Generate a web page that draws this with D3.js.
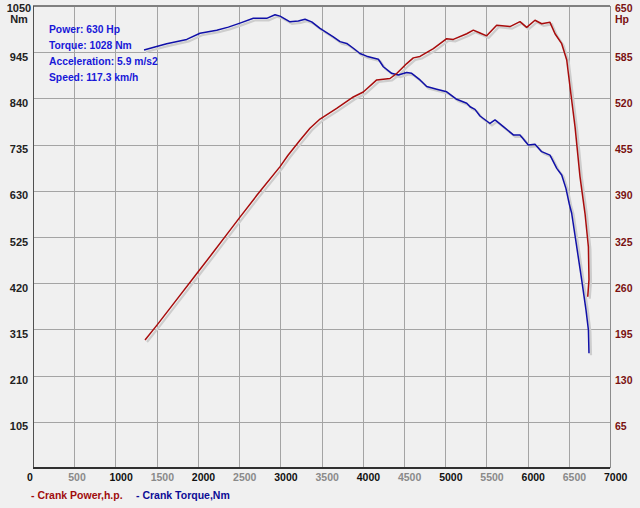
<!DOCTYPE html>
<html>
<head>
<meta charset="utf-8">
<script src="https://cdn.jsdelivr.net/npm/d3@7.9.0/dist/d3.min.js"></script>
<style>
  html, body { margin: 0; padding: 0; background: #f0f0f0; }
  svg { display: block; font-family: "Liberation Sans", Arial, sans-serif; font-weight: bold; }
</style>
</head>
<body>
<div id="chart"></div>
<script>
/* ---- data ---- */
const torqueRpm = [1347, 1500, 1622, 1865, 2026, 2229, 2370, 2511, 2673, 2835, 2936, 2997, 3118, 3219, 3300, 3381,
  3482, 3643, 3725, 3806, 3886, 3967, 4048, 4129, 4190, 4250, 4351, 4432, 4534, 4594, 4695, 4776, 4898, 5019,
  5140, 5262, 5302, 5362, 5423, 5544, 5605, 5706, 5827, 5908, 6009, 6090, 6171, 6272, 6354, 6414, 6466, 6506,
  6535, 6596, 6657, 6709, 6738, 6745];
const torqueNm = [950, 958, 964, 974, 988, 995, 1002, 1011, 1022, 1022, 1030, 1027, 1014, 1016, 1020, 1014,
  999, 980, 969, 965, 954, 942, 936, 932, 929, 912, 897, 893, 899, 897, 882, 867, 861, 855,
  838, 829, 821, 815, 800, 783, 791, 776, 757, 757, 734, 736, 719, 711, 681, 666, 635, 600,
  579, 503, 427, 359, 314, 261];

const powerRpm = [1359, 1504, 1750, 1990, 2170, 2354, 2511, 2718, 2997, 3094, 3239, 3360, 3482, 3684, 3886, 4007,
  4170, 4331, 4412, 4534, 4614, 4695, 4857, 5019, 5099, 5262, 5342, 5423, 5504, 5625, 5787, 5908, 5989,
  6090, 6171, 6272, 6333, 6414, 6475, 6515, 6576, 6636, 6697, 6738, 6745, 6730];
const powerHp = [180, 201, 238, 274, 301, 329, 353, 384, 424, 440, 461, 478, 491, 506, 522, 529,
  546, 548, 555, 569, 577, 579, 590, 604, 603, 611, 616, 612, 608, 623, 621, 628, 620,
  630, 625, 627, 611, 597, 574, 536, 480, 410, 358, 311, 265, 241];

const rpmTicks = d3.range(0, 7001, 500);
const nmTicks = d3.range(105, 1051, 105);
const hpTicks = d3.range(65, 651, 65);
const infoLines = ['Power: 630 Hp', 'Torque: 1028 Nm', 'Acceleration: 5.9 m/s2', 'Speed: 117.3 km/h'];

/* ---- layout ---- */
const W = 640, H = 508;
const L = 33, R = 610, T = 6, B = 468;

const x = d3.scaleLinear().domain([0, 7000]).range([L, R]);
const yNm = d3.scaleLinear().domain([0, 1050]).range([B, T]);
const yHp = d3.scaleLinear().domain([0, 650]).range([B, T]);

const svg = d3.select('#chart').append('svg')
  .attr('width', W).attr('height', H)
  .attr('viewBox', `0 0 ${W} ${H}`);

svg.append('rect').attr('width', W).attr('height', H).attr('fill', '#f0f0f0');

/* grid */
svg.append('g')
  .attr('transform', `translate(0,${B})`)
  .call(d3.axisBottom(x).tickValues(rpmTicks.slice(1, -1)).tickSize(-(B - T)).tickFormat(''))
  .call(g => g.select('.domain').remove())
  .selectAll('line').attr('stroke', '#a4a4a4').attr('shape-rendering', 'crispEdges');

svg.append('g')
  .attr('transform', `translate(${L},0)`)
  .call(d3.axisLeft(yNm).tickValues(nmTicks.slice(0, -1)).tickSize(-(R - L)).tickFormat(''))
  .call(g => g.select('.domain').remove())
  .selectAll('line').attr('stroke', '#a4a4a4').attr('shape-rendering', 'crispEdges');

/* frame */
const frame = svg.append('g').attr('shape-rendering', 'crispEdges');
frame.append('line').attr('x1', L).attr('x2', R).attr('y1', T).attr('y2', T).attr('stroke', '#808080').attr('stroke-width', 2);
frame.append('line').attr('x1', R).attr('x2', R).attr('y1', T).attr('y2', B).attr('stroke', '#8c8c8c');
frame.append('line').attr('x1', L).attr('x2', L).attr('y1', T).attr('y2', B).attr('stroke', '#505050');
frame.append('line').attr('x1', L).attr('x2', R).attr('y1', B).attr('y2', B).attr('stroke', '#303030').attr('stroke-width', 2);

/* curves with drop shadow */
const torqueData = torqueRpm.map((r, i) => [r, torqueNm[i]]);
const powerData = powerRpm.map((r, i) => [r, powerHp[i]]);
const torqueLine = d3.line().x(d => x(d[0])).y(d => yNm(d[1]));
const powerLine = d3.line().x(d => x(d[0])).y(d => yHp(d[1]));

const curves = [
  { path: torqueLine(torqueData), color: '#1010a8' },
  { path: powerLine(powerData), color: '#a80c0c' }
];

svg.append('g').attr('transform', 'translate(2,2)')
  .selectAll('path').data(curves).join('path')
  .attr('d', d => d.path).attr('fill', 'none')
  .attr('stroke', '#cdcdcd').attr('stroke-width', 2.2);

svg.append('g')
  .selectAll('path').data(curves).join('path')
  .attr('d', d => d.path).attr('fill', 'none')
  .attr('stroke', d => d.color).attr('stroke-width', 1.5)
  .attr('stroke-linejoin', 'round');

/* left axis labels */
svg.append('g').selectAll('text').data(nmTicks).join('text')
  .attr('x', 19).attr('y', d => d === 1050 ? 12 : yNm(d) + 8.5)
  .attr('text-anchor', 'middle').attr('font-size', 11).attr('fill', '#222')
  .text(d => d);
svg.append('text').attr('x', 19).attr('y', 23).attr('text-anchor', 'middle')
  .attr('font-size', 11).attr('fill', '#222').text('Nm');

/* right axis labels */
svg.append('g').selectAll('text').data(hpTicks).join('text')
  .attr('x', 615).attr('y', d => d === 650 ? 12 : yHp(d) + 8.5)
  .attr('font-size', 10.5).attr('fill', '#7a1010')
  .text(d => d);
svg.append('text').attr('x', 615).attr('y', 23)
  .attr('font-size', 10.5).attr('fill', '#7a1010').text('Hp');

/* x axis labels */
svg.append('g').selectAll('text').data(rpmTicks).join('text')
  .attr('x', d => x(d) - 6).attr('y', 481)
  .attr('font-size', 10.5)
  .attr('fill', d => d % 1000 === 0 ? '#111' : '#8a8a8a')
  .text(d => d);

/* info box */
svg.append('g').selectAll('text').data(infoLines).join('text')
  .attr('x', 49).attr('y', (d, i) => 33 + i * 16)
  .attr('font-size', 10.3).attr('fill', '#1818d8')
  .text(d => d);

/* legend */
svg.append('text').attr('x', 31).attr('y', 499).attr('font-size', 10.5)
  .attr('fill', '#a00c0c').text('- Crank Power,h.p.');
svg.append('text').attr('x', 136).attr('y', 499).attr('font-size', 10.5)
  .attr('fill', '#0c0c96').text('- Crank Torque,Nm');
</script>
</body>
</html>
